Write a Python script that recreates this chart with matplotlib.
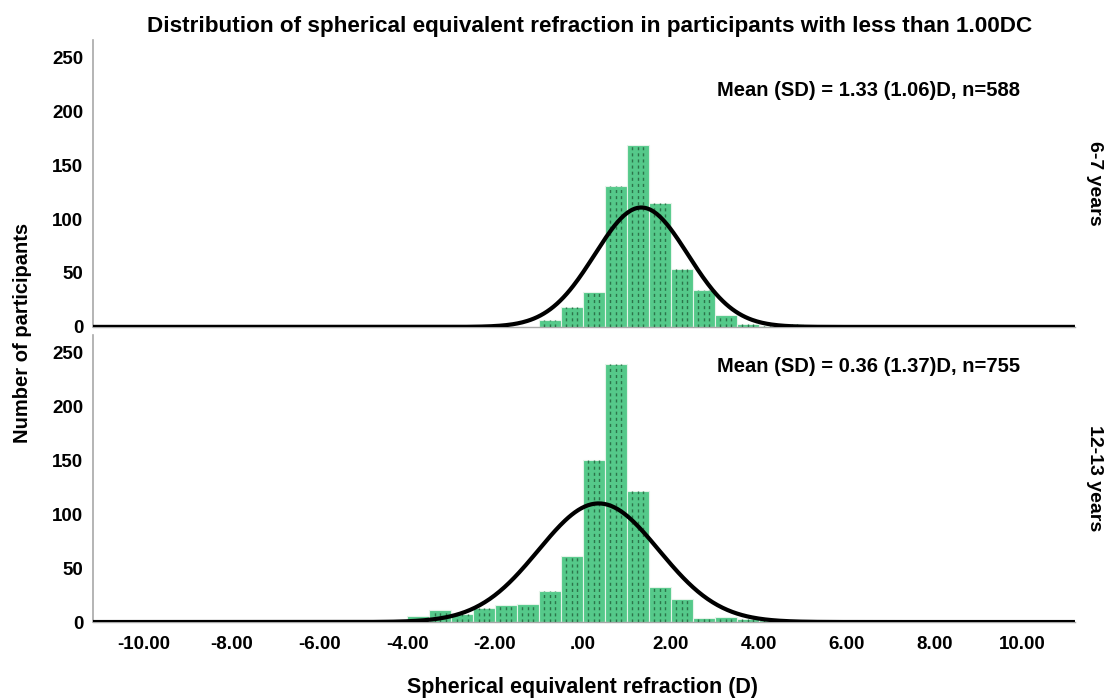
import matplotlib
matplotlib.use("Agg")
import matplotlib.pyplot as plt
import numpy as np

plt.rcParams["font.family"] = ["Liberation Sans", "DejaVu Sans"]
plt.rcParams["font.weight"] = "bold"

bin_width = 0.5

# 6-7 years: bins from -1.0 upward
edges_young = np.arange(-1.0, 6.0, bin_width)
counts_young = [6, 18, 32, 131, 169, 115, 54, 34, 11, 3, 1, 3, 1, 1]
mean_young, sd_young, n_young = 1.33, 1.06, 588

# 12-13 years: bins from -4.0 upward
edges_old = np.arange(-4.0, 6.0, bin_width)
counts_old = [6, 11, 7, 13, 16, 17, 29, 61, 150, 239, 121, 32, 21, 4, 5, 3, 2, 1, 1, 1]
mean_old, sd_old, n_old = 0.36, 1.37, 755

panels = [
    ("6-7 years", edges_young, counts_young, mean_young, sd_young, n_young, 219),
    ("12-13 years", edges_old, counts_old, mean_old, sd_old, n_old, 237),
]

xticks = np.arange(-10, 11, 2)
xticklabels = ["-10.00", "-8.00", "-6.00", "-4.00", "-2.00", ".00",
               "2.00", "4.00", "6.00", "8.00", "10.00"]
yticks = [0, 50, 100, 150, 200, 250]

bar_color = "#55c98a"
dash_color = "#2c744a"

fig = plt.figure(figsize=(11.04, 7.0), dpi=100)
ax_top = fig.add_axes([0.0842, 0.533, 0.8895, 0.41])
ax_bot = fig.add_axes([0.0842, 0.1114, 0.8895, 0.41])

xs = np.linspace(-11.15, 11.2, 600)

for ax, (label, edges, counts, mu, sd, n, ytxt) in zip([ax_top, ax_bot], panels):
    counts = np.array(counts)
    ax.bar(edges, counts, width=bin_width, align="edge", color=bar_color,
           edgecolor="#e6f4ea", linewidth=0.8, zorder=2)
    # dashed texture inside each bar
    for frac in (0.25, 0.5, 0.75):
        ax.vlines(edges + frac * bin_width, 0, counts, colors=dash_color,
                  linestyles=(0, (2.2, 2.2)), linewidth=1.0, zorder=3)
    curve = n * bin_width * np.exp(-0.5 * ((xs - mu) / sd) ** 2) / (sd * np.sqrt(2 * np.pi))
    ax.plot(xs, curve, color="black", linewidth=3.0, zorder=4,
            solid_capstyle="butt")
    ax.text(6.5, ytxt, f"Mean (SD) = {mu:.2f} ({sd:.2f})D, n={n}",
            ha="center", va="center", fontsize=14.5, fontweight="bold")
    ax.text(1.011, 0.5, label, transform=ax.transAxes, rotation=-90,
            ha="left", va="center", fontsize=14, fontweight="bold")

    ax.set_xlim(-11.15, 11.2)
    ax.set_ylim(0, 266)
    ax.set_yticks(yticks)
    ax.set_yticklabels([str(t) for t in yticks], fontsize=13.5, fontweight="bold")
    ax.tick_params(axis="both", length=0, pad=7)
    for side in ("top", "right"):
        ax.spines[side].set_visible(False)
    ax.spines["left"].set_color("#a8a8a8")
    ax.spines["left"].set_linewidth(1.2)
    ax.spines["bottom"].set_color("#a8a8a8")
    ax.spines["bottom"].set_linewidth(1.0)

ax_top.set_xticks([])
ax_bot.set_xticks(xticks)
ax_bot.set_xticklabels(xticklabels, fontsize=13.5, fontweight="bold")
ax_bot.tick_params(axis="x", pad=10)

fig.suptitle("Distribution of spherical equivalent refraction in participants with less than 1.00DC",
             x=0.534, y=0.977, fontsize=16.2, fontweight="bold")
fig.text(0.02, 0.525, "Number of participants", rotation=90, ha="center", va="center",
         fontsize=14.5, fontweight="bold")
fig.text(0.528, 0.018, "Spherical equivalent refraction (D)", ha="center", va="center",
         fontsize=15.5, fontweight="bold")

fig.savefig("out.png", dpi=100, facecolor="white")
